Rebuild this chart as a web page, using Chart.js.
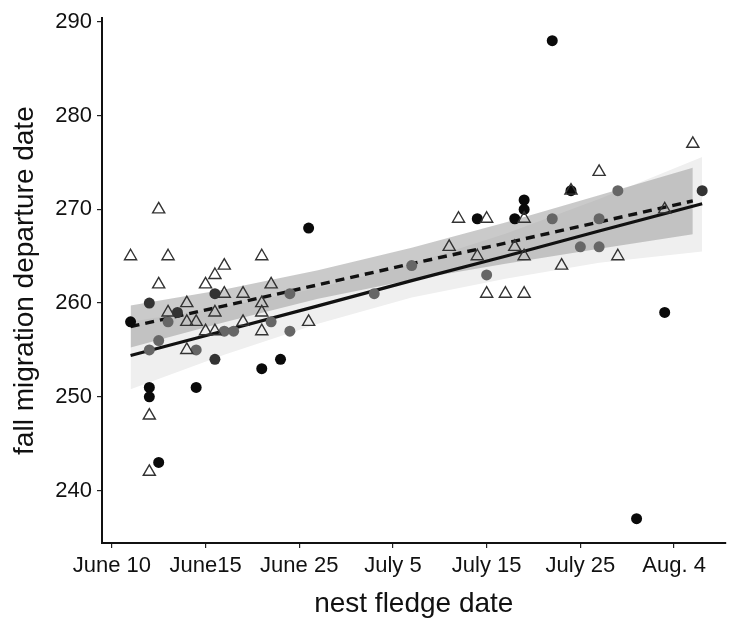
<!DOCTYPE html>
<html>
<head>
<meta charset="utf-8">
<script src="https://cdn.jsdelivr.net/npm/chart.js@4.4.1/dist/chart.umd.min.js"></script>
<style>
  body { margin: 0; background: #fff; }
  canvas { display: block; }
</style>
</head>
<body>
<canvas id="grafico" width="734" height="630"></canvas>
<script>
// Ejes: fecha de emancipación (día del año) vs fecha de partida migratoria
const xTickValues = [160, 170, 180, 190, 200, 210, 220];
const xTickLabels = ['June 10', 'June15', 'June 25', 'July 5', 'July 15', 'July 25', 'Aug. 4'];
const yTicks = [240, 250, 260, 270, 280, 290];

// Círculos negros
const negroX = [162, 164, 164, 165, 169, 176, 178, 181, 199, 203, 204, 204, 207, 209, 216, 219];
const negroY = [258, 251, 250, 243, 251, 253, 254, 268, 269, 269, 271, 270, 288, 272, 237, 259];

// Círculos gris oscuro
const oscuroX = [164, 167, 171, 171, 223];
const oscuroY = [260, 259, 261, 254, 272];

// Círculos grises
const grisX = [166, 165, 164, 169, 172, 173, 177, 179, 179, 188, 192, 200, 207, 212, 210, 212, 214];
const grisY = [258, 256, 255, 255, 257, 257, 258, 257, 261, 261, 264, 263, 269, 269, 266, 266, 272];

// Triángulos abiertos
const trianguloX = [162, 165, 166, 176, 172, 171, 165, 170, 177, 172, 174, 168, 176, 166, 171, 176, 168, 169, 174, 181, 170, 171, 176, 168, 164, 164,
                    196, 197, 200, 204, 199, 203, 204, 214, 208, 200, 202, 204, 212, 222, 209, 219];
const trianguloY = [265, 270, 265, 265, 264, 263, 262, 262, 262, 261, 261, 260, 260, 259, 259, 259, 258, 258, 258, 258, 257, 257, 257, 255, 248, 242,
                    266, 269, 269, 269, 265, 266, 265, 265, 264, 261, 261, 261, 274, 277, 272, 270];

// Recta de los círculos (continua) y su banda de confianza
const continuaX = [162, 172, 182, 192, 202, 212, 223];
const continuaY = [254.4, 257.05, 259.7, 262.4, 265.0, 267.7, 270.6];
const continuaAlta = [258.0, 259.6, 261.6, 264.2, 267.4, 271.1, 275.6];
const continuaBaja = [250.8, 254.5, 257.8, 260.6, 262.6, 264.3, 265.5];

// Recta de los triángulos (discontinua) y su banda
const discontinuaX = [162, 172, 182, 192, 202, 212, 222];
const discontinuaY = [257.5, 259.7, 261.95, 264.2, 266.4, 268.65, 270.9];
const discontinuaAlta = [259.75, 261.45, 263.5, 265.9, 268.6, 271.5, 274.45];
const discontinuaBaja = [255.25, 257.95, 260.45, 262.5, 264.2, 265.8, 267.35];

const puntos = (xs, ys) => xs.map((x, i) => ({ x: x, y: ys[i] }));

const datos = {
    datasets: [{
        // triángulos encima de todo
        label: 'triangulos',
        data: puntos(trianguloX, trianguloY),
        showLine: false,
        pointStyle: 'triangle',
        pointRadius: 7,
        pointBorderWidth: 1.4,
        pointBorderColor: '#333',
        pointBackgroundColor: 'rgba(0,0,0,0)',
        order: 0
    }, {
        label: 'negro',
        data: puntos(negroX, negroY),
        showLine: false,
        pointRadius: 5.5,
        pointBorderWidth: 0,
        pointBackgroundColor: '#0a0a0a',
        order: 1
    }, {
        label: 'oscuro',
        data: puntos(oscuroX, oscuroY),
        showLine: false,
        pointRadius: 5.5,
        pointBorderWidth: 0,
        pointBackgroundColor: '#333333',
        order: 1
    }, {
        label: 'gris',
        data: puntos(grisX, grisY),
        showLine: false,
        pointRadius: 5.5,
        pointBorderWidth: 0,
        pointBackgroundColor: '#666666',
        order: 1
    }, {
        label: 'continua',
        data: puntos(continuaX, continuaY),
        borderColor: '#111',
        borderWidth: 3.2,
        pointRadius: 0,
        fill: false,
        order: 2
    }, {
        label: 'discontinua',
        data: puntos(discontinuaX, discontinuaY),
        borderColor: '#111',
        borderWidth: 3.4,
        borderDash: [9, 6],
        pointRadius: 0,
        fill: false,
        order: 2
    }, {
        label: 'banda discontinua alta',
        data: puntos(discontinuaX, discontinuaAlta),
        borderWidth: 0,
        pointRadius: 0,
        fill: { target: 7 },
        backgroundColor: 'rgba(150,150,150,0.5)',
        order: 3
    }, {
        label: 'banda discontinua baja',
        data: puntos(discontinuaX, discontinuaBaja),
        borderWidth: 0,
        pointRadius: 0,
        fill: false,
        order: 3
    }, {
        label: 'banda continua alta',
        data: puntos(continuaX, continuaAlta),
        borderWidth: 0,
        pointRadius: 0,
        fill: { target: 9 },
        backgroundColor: '#efefef',
        order: 4
    }, {
        label: 'banda continua baja',
        data: puntos(continuaX, continuaBaja),
        borderWidth: 0,
        pointRadius: 0,
        fill: false,
        order: 4
    }]
};

const fuenteTicks = { family: 'Liberation Sans, Arial, sans-serif', size: 22 };
const fuenteTitulo = { family: 'Liberation Sans, Arial, sans-serif', size: 28 };

const opciones = {
    responsive: false,
    animation: false,
    layout: { padding: { top: 13, right: 0, left: 0, bottom: 0 } },
    plugins: {
        legend: { display: false },
        tooltip: { enabled: false }
    },
    scales: {
        x: {
            type: 'linear',
            min: 158.95,
            max: 225.5,
            afterBuildTicks: (escala) => { escala.ticks = xTickValues.map(v => ({ value: v })); },
            afterFit: (escala) => { escala.height = 87; },
            ticks: {
                color: '#111',
                font: fuenteTicks,
                padding: 5,
                maxRotation: 0,
                autoSkip: false,
                callback: (valor) => xTickLabels[xTickValues.indexOf(valor)]
            },
            grid: { drawOnChartArea: false, drawTicks: true, tickLength: 5, color: '#222', lineWidth: 1.2 },
            border: { display: true, color: '#111', width: 2 },
            title: {
                display: true,
                text: 'nest fledge date',
                color: '#111',
                font: fuenteTitulo,
                padding: { top: 0, bottom: 9 }
            }
        },
        y: {
            type: 'linear',
            min: 234.4,
            max: 290.4,
            afterBuildTicks: (escala) => { escala.ticks = yTicks.map(v => ({ value: v })); },
            afterFit: (escala) => { escala.width = 102; },
            ticks: {
                color: '#111',
                font: fuenteTicks,
                padding: 5
            },
            grid: { drawOnChartArea: false, drawTicks: true, tickLength: 5, color: '#222', lineWidth: 1.2 },
            border: { display: true, color: '#111', width: 2 },
            title: {
                display: true,
                text: 'fall migration departure date',
                color: '#111',
                font: fuenteTitulo,
                padding: { top: 8, bottom: 0 }
            }
        }
    }
};

const ctx = document.getElementById('grafico').getContext('2d');
const miGrafico = new Chart(ctx, { type: 'line', data: datos, options: opciones });
</script>
</body>
</html>
